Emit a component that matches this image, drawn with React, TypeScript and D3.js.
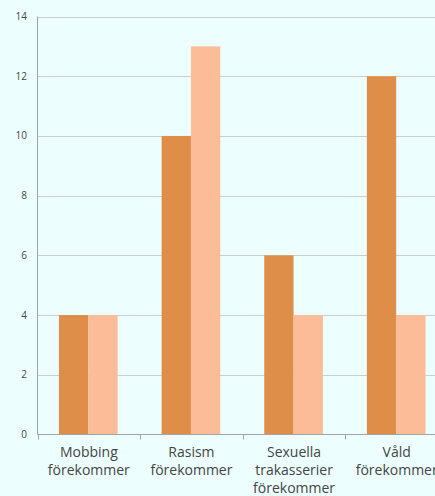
import React from "react";
import * as d3 from "d3";

const categories = [
  ["Mobbing", "förekommer"],
  ["Rasism", "förekommer"],
  ["Sexuella", "trakasserier", "förekommer"],
  ["Våld", "förekommer"],
];
const series1 = [4, 10, 6, 12];
const series2 = [4, 13, 4, 4];
const yTicks = [0, 2, 4, 6, 8, 10, 12, 14];
const colors = ["#DF8E4A", "#FCBC98"];

const W = 435;
const H = 496;
const left = 37.5;
const right = 448;
const top = 16.5;
const bottom = 434.5;

export default function App() {
  const x = d3.scaleBand<number>().domain(d3.range(categories.length)).range([left, right]).paddingInner(0).paddingOuter(0);
  const y = d3.scaleLinear().domain([0, 14]).range([bottom, top]);
  const bw = x.bandwidth();
  const inner = d3.scaleBand<number>().domain([0, 1]).range([21.5, bw - 22.5]).padding(0);
  const font = "'Open Sans', sans-serif";
  return (
    <svg width={W} height={H} style={{ position: "absolute", left: 0, top: 0, background: "#ECFFFE" }}>
      <rect x={0} y={0} width={W} height={H} fill="#ECFFFE" />
      {yTicks.map((t) => (
        <g key={t}>
          {t > 0 && <line x1={left} x2={W} y1={Math.round(y(t)) + 0.5} y2={Math.round(y(t)) + 0.5} stroke="#C9CFCF" strokeWidth={1} />}
          <text x={27} y={y(t) + 3.5} textAnchor="end" fontSize={10} fill="#444" fontFamily={font}>{t}</text>
        </g>
      ))}
      {categories.map((_, i) =>
        [series1[i], series2[i]].map((v, j) => (
          <rect key={i + "-" + j} x={(x(i) as number) + (inner(j) as number)} y={y(v)} width={inner.bandwidth()} height={y(0) - y(v)} fill={colors[j]} />
        ))
      )}
      <line x1={left} x2={left} y1={top} y2={bottom} stroke="#A0A4A4" />
      <line x1={left} x2={W} y1={bottom} y2={bottom} stroke="#A0A4A4" />
      {d3.range(categories.length + 1).map((i) => {
        const xp = Math.round(left + i * bw) + 0.5;
        return <line key={i} x1={xp} x2={xp} y1={bottom} y2={bottom + 5} stroke="#A0A4A4" />;
      })}
      {categories.map((lines, i) => (
        <text key={i} x={(x(i) as number) + bw / 2} y={457} textAnchor="middle" fontSize={14} fill="#444" fontFamily={font}>
          {lines.map((l, k) => (
            <tspan key={k} x={(x(i) as number) + bw / 2} dy={k === 0 ? 0 : 18}>{l}</tspan>
          ))}
        </text>
      ))}
    </svg>
  );
}
